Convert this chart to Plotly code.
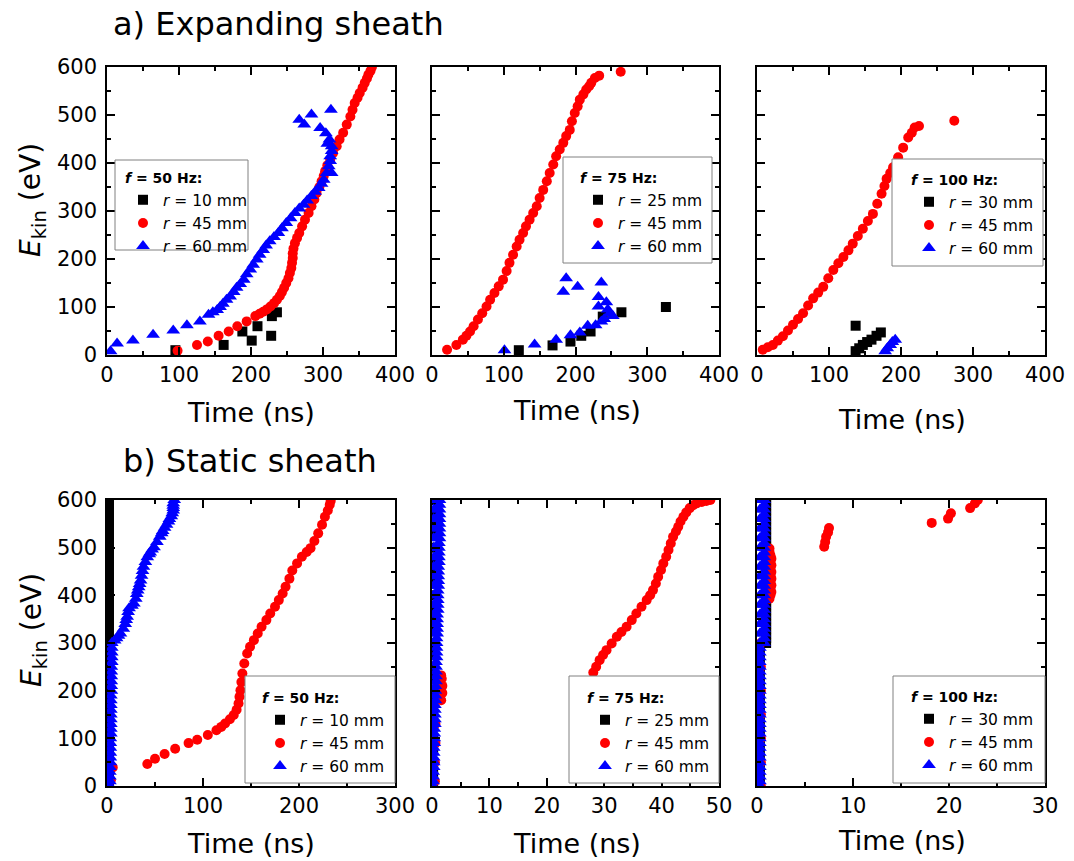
import plotly.graph_objects as go

FONT = "DejaVu Sans"
BLACK, RED, BLUE = "#000000", "#ff0000", "#0000ff"

# ---------------- a) Expanding sheath ----------------
# f = 50 Hz
a50_r10_t = [95, 162, 188, 201, 209, 228, 229, 236]
a50_r10_e = [10, 21, 49, 30, 60, 40, 81, 89]
a50_r45_t = [98, 125, 140, 155, 169, 181, 194, 206, 212, 217, 222, 227, 232, 236, 240, 243,
             246, 249, 252, 254, 256, 257, 258, 258, 259, 261, 264, 267, 271, 275, 280, 284,
             288, 291, 295, 298, 301, 303, 306, 310, 314, 319, 323, 328, 333, 338, 341, 344,
             348, 351, 355, 358, 361, 363, 366, 368]
a50_r45_e = [9, 21, 28, 40, 49, 60, 70, 81, 86, 90, 95, 101, 108, 115, 123, 131,
             140, 150, 160, 171, 181, 192, 202, 212, 222, 233, 244, 254, 268, 282, 296, 310,
             324, 337, 350, 362, 373, 383, 395, 407, 421, 435, 449, 463, 480, 497, 511, 525,
             536, 546, 557, 567, 576, 584, 592, 600]
a50_r60_t = [5, 14, 36, 64, 92, 111, 129, 141, 147, 153, 157, 161, 166, 171, 176, 180, 185,
             190, 194, 199, 203, 208, 212, 217, 221, 226, 232, 238, 243, 249, 255, 261, 267,
             273, 278, 284, 289, 294, 298, 301, 305, 312, 308, 310, 310, 312, 312, 306, 309,
             304, 296, 274, 267, 284, 311]
a50_r60_e = [8, 24, 30, 42, 51, 62, 70, 84, 89, 94, 100, 107, 115, 122, 131, 140, 148,
             157, 168, 178, 188, 199, 209, 219, 228, 237, 246, 254, 264, 275, 285, 296, 305,
             313, 322, 331, 340, 348, 357, 365, 379, 379, 393, 404, 414, 425, 435, 440, 449,
             462, 473, 480, 490, 501, 511]

# f = 75 Hz
a75_r25_t = [121, 168, 193, 208, 221, 238, 264, 326]
a75_r25_e = [10, 20, 28, 40, 49, 80, 89, 100]
a75_r45_t = [21, 34, 43, 48, 53, 58, 64, 70, 76, 81, 87, 93, 99, 104, 108, 113, 118, 122,
             127, 131, 136, 141, 146, 150, 155, 160, 164, 169, 173, 178, 183, 187, 192, 195,
             199, 203, 206, 211, 215, 219, 222, 227, 233, 263]
a75_r45_e = [11, 21, 32, 40, 49, 60, 74, 87, 101, 115, 129, 143, 157, 175, 192, 209, 226, 240,
             254, 268, 282, 296, 310, 327, 344, 362, 379, 397, 414, 428, 442, 456, 469, 487,
             504, 518, 532, 543, 553, 560, 567, 577, 582, 590]
a75_r60_t = [101, 143, 173, 193, 206, 217, 228, 236, 240, 252, 248, 245, 232, 243, 232, 183,
             203, 236, 187]
a75_r60_e = [10, 22, 32, 41, 47, 61, 62, 70, 75, 81, 87, 95, 101, 110, 121, 132,
             142, 151, 160]

# f = 100 Hz
a100_r30_t = [137, 142, 147, 153, 159, 166, 172, 137]
a100_r30_e = [8, 14, 21, 27, 32, 40, 47, 61]
a100_r45_t = [8, 15, 22, 29, 36, 43, 50, 57, 64, 71, 78, 85, 92, 99, 106, 113, 120, 127,
              133, 140, 147, 154, 161, 167, 173, 177, 180, 185, 189, 196, 203, 210, 215,
              219, 225, 274]
a100_r45_e = [11, 16, 21, 30, 39, 51, 63, 75, 87, 103, 118, 130, 142, 160, 177, 191, 204, 218,
              232, 248, 263, 279, 294, 315, 336, 352, 367, 379, 391, 412, 432, 453, 463,
              474, 477, 488]
a100_r60_t = [178, 181, 185, 188, 192]
a100_r60_e = [8, 14, 21, 27, 32]

# ---------------- b) Static sheath ----------------
# f = 50 Hz
b50_r10_t = [2, 2, 2, 2, 2, 2, 2, 2, 2, 2, 2, 2, 2, 2, 2,
             2, 2, 2, 2, 2, 2, 2, 2, 2, 2, 2, 2, 2, 2, 2, 2, 2, 2, 2, 2, 2, 2, 2, 2, 2, 2, 2,
             2, 2, 2, 2]
b50_r10_e = [0, 20, 40, 60, 80, 100, 120, 140, 160, 180, 200, 220, 240, 260, 280,
             300, 310, 320, 330, 340, 350, 360, 370, 380, 390, 400, 410, 420, 430, 440, 450,
             460, 470, 480, 490, 500, 510, 520, 530, 540, 550, 560, 570, 580, 590, 600]
b50_r45_t = [4, 6, 42, 50, 60, 71, 85, 94, 105, 114, 119, 123, 128, 132, 135, 137, 138, 139,
             140, 141, 143, 146, 149, 153, 157, 161, 166, 170, 175, 179, 183, 186, 190, 193,
             198, 203, 208, 212, 216, 220, 224, 227, 230, 232, 233]
b50_r45_e = [12, 39, 46, 57, 67, 78, 90, 97, 107, 117, 124, 131, 140, 149, 160, 173, 187, 201,
             218, 236, 257, 278, 292, 306, 320, 334, 348, 362, 376, 390, 404, 418, 435, 452,
             467, 481, 491, 499, 514, 530, 548, 565, 578, 590, 598]
b50_r60_t = [3, 3, 3, 3, 3, 3.5, 3.5, 3.5, 3.5, 3.5, 3.5, 4, 4, 4, 4, 4, 4, 4, 4, 4,
             4.5, 4.5, 4.5, 4.5, 4.5, 4.5, 5, 5, 5, 5, 5,
             8, 10, 12, 14, 17, 19, 20, 21, 22, 23, 26, 28, 30, 31, 32, 33, 34, 35, 36, 37,
             38, 40, 42, 44, 45, 47, 49, 52, 55, 57, 58, 60, 62, 64, 65, 67, 68, 69, 69, 69,
             69, 70]
b50_r60_e = [0, 10, 20, 30, 40, 50, 60, 70, 80, 90, 100, 110, 120, 130, 140, 150, 160, 170,
             180, 190, 200, 210, 220, 230, 240, 250, 260, 270, 280, 290, 300,
             305, 310, 315, 320, 330, 340, 348, 355, 365, 373, 378, 383, 393, 403, 410, 417,
             424, 431, 441, 451, 460, 470, 480, 486, 490, 496, 501, 512, 523, 530, 535, 542,
             548, 555, 560, 566, 572, 578, 583, 588, 593, 600]

# f = 75 Hz
b75_r25_t = [0.2, 0.2, 0.2, 0.2, 0.2, 0.2, 0.2, 0.2, 0.2, 0.2, 0.2, 0.2, 0.2, 0.2, 0.2,
             0.2, 0.2, 0.2, 0.2, 0.2, 0.2, 0.2, 0.2, 0.2, 0.2]
b75_r25_e = [0, 25, 50, 75, 100, 125, 150, 175, 200, 225, 250, 275, 300, 325, 350, 375, 400,
             425, 450, 475, 500, 525, 550, 575, 600]
b75_r45_t = [0.5, 0.5, 0.6, 0.6, 1.6, 1.8, 1.8, 1.7, 1.6, 28.1, 28.6, 29.2, 29.8, 30.4,
             31.3, 32.2, 33.0, 33.9, 34.8, 35.6, 36.5, 37.4, 38.0, 38.5, 39.0, 39.4, 39.9,
             40.3, 40.8, 41.2, 41.6, 42.0, 42.5, 42.9, 43.3, 43.8, 44.3, 44.9, 45.5, 46.1,
             47.0, 47.8, 48.5]
b75_r45_e = [10, 50, 90, 130, 180, 195, 210, 225, 232, 238, 250, 264, 275, 285, 299, 313,
             323, 334, 348, 362, 376, 390, 400, 411, 425, 439, 453, 467, 481, 495, 509, 523,
             534, 544, 555, 565, 574, 583, 589, 593, 596, 598, 600]
b75_r60_t = [0.2, 0.2, 0.2, 0.2, 0.3, 0.3, 0.3, 0.3, 0.3, 0.4,
             0.4, 0.4, 0.4, 0.5, 0.5, 0.5, 0.5, 0.5, 0.6, 0.6,
             0.6, 0.6, 0.7, 0.7, 0.7, 0.7, 0.7, 0.8, 0.8, 0.8,
             0.8, 0.8, 0.9, 0.9, 0.9, 0.9, 0.9, 1.0, 1.0, 1.0,
             1.0, 1.0, 1.1, 1.1, 1.1, 1.1, 1.1, 1.2, 1.2, 1.2,
             1.2, 1.2, 1.3, 1.3, 1.3, 1.3, 1.3, 1.3, 1.3, 1.3,
             1.3,
             0.3, 0.3, 0.3, 0.3, 0.3, 0.3, 0.3, 0.3, 0.3, 0.3, 0.3, 0.3, 0.3, 0.3, 0.3, 0.3]
b75_r60_e = [0, 10, 20, 30, 40, 50, 60, 70, 80, 90,
             100, 110, 120, 130, 140, 150, 160, 170, 180, 190,
             200, 210, 220, 230, 240, 250, 260, 270, 280, 290,
             300, 310, 320, 330, 340, 350, 360, 370, 380, 390,
             400, 410, 420, 430, 440, 450, 460, 470, 480, 490,
             500, 510, 520, 530, 540, 550, 560, 570, 580, 590,
             600,
             300, 320, 340, 360, 380, 400, 420, 440, 460, 480, 500, 520, 540, 560, 580, 600]

# f = 100 Hz
b100_r30_t = [0.3, 0.3, 0.3, 0.3, 0.3, 0.3, 0.3, 0.3, 0.3, 0.3, 0.3, 0.3, 0.3, 0.3, 0.3,
              0.95, 0.95, 0.95, 0.95, 0.95, 0.95, 0.95, 0.95, 0.95, 0.95, 0.95, 0.95, 0.95,
              0.95, 0.95, 0.95, 0.95, 0.95, 0.95, 0.95, 0.95, 0.95, 0.95, 0.95, 0.95, 0.95,
              0.95, 0.95, 0.95, 0.95, 0.95]
b100_r30_e = [0, 20, 40, 60, 80, 100, 120, 140, 160, 180, 200, 220, 240, 260, 280,
              300, 310, 320, 330, 340, 350, 360, 370, 380, 390, 400, 410, 420, 430, 440, 450,
              460, 470, 480, 490, 500, 510, 520, 530, 540, 550, 560, 570, 580, 590, 600]
b100_r45_t = [0.4, 0.4, 0.4, 0.4, 0.4, 0.4, 0.4,
              1.3, 1.4, 1.5, 1.4, 1.5, 1.4, 1.5, 1.4, 1.5, 1.4, 1.5, 1.4, 1.5, 1.4, 1.3, 1.3,
              7.0, 7.1, 7.2, 7.4, 7.5, 18.2, 19.9, 20.2, 22.2, 22.7, 23.0]
b100_r45_e = [0, 50, 100, 150, 200, 250, 300,
              393, 400, 407, 414, 421, 428, 435, 442, 449, 456, 463, 470, 477, 484, 491, 498,
              502, 512, 523, 532, 541, 552, 561, 572, 583, 593, 600]
b100_r60_t = [0.3, 0.3, 0.3, 0.3, 0.3, 0.3, 0.3, 0.3, 0.3, 0.3,
              0.3, 0.3, 0.3, 0.3, 0.3, 0.3, 0.3, 0.3, 0.3, 0.3,
              0.3, 0.3, 0.3, 0.3, 0.3, 0.3, 0.3, 0.3, 0.3, 0.3,
              0.75, 0.75, 0.75, 0.75, 0.75, 0.75, 0.75, 0.75, 0.75, 0.75,
              0.75, 0.75, 0.75, 0.75, 0.75, 0.75, 0.75, 0.75, 0.75, 0.75,
              0.75, 0.75, 0.75, 0.75, 0.75, 0.75, 0.75, 0.75, 0.75, 0.75,
              0.75,
              0.3, 0.3, 0.3, 0.3, 0.3, 0.3, 0.3, 0.3, 0.3, 0.3, 0.3, 0.3, 0.3, 0.3, 0.3, 0.3]
b100_r60_e = [0, 10, 20, 30, 40, 50, 60, 70, 80, 90,
              100, 110, 120, 130, 140, 150, 160, 170, 180, 190,
              200, 210, 220, 230, 240, 250, 260, 270, 280, 290,
              300, 310, 320, 330, 340, 350, 360, 370, 380, 390,
              400, 410, 420, 430, 440, 450, 460, 470, 480, 490,
              500, 510, 520, 530, 540, 550, 560, 570, 580, 590,
              600,
              300, 320, 340, 360, 380, 400, 420, 440, 460, 480, 500, 520, 540, 560, 580, 600]

# panel specs: (row, col, x max, major step, minor step, frequency, series)
panels = [
    (0, 0, 400, 100, 50, 50, [(10, a50_r10_t, a50_r10_e), (45, a50_r45_t, a50_r45_e), (60, a50_r60_t, a50_r60_e)]),
    (0, 1, 400, 100, 50, 75, [(25, a75_r25_t, a75_r25_e), (45, a75_r45_t, a75_r45_e), (60, a75_r60_t, a75_r60_e)]),
    (0, 2, 400, 100, 50, 100, [(30, a100_r30_t, a100_r30_e), (45, a100_r45_t, a100_r45_e), (60, a100_r60_t, a100_r60_e)]),
    (1, 0, 300, 100, 50, 50, [(10, b50_r10_t, b50_r10_e), (45, b50_r45_t, b50_r45_e), (60, b50_r60_t, b50_r60_e)]),
    (1, 1, 50, 10, 5, 75, [(25, b75_r25_t, b75_r25_e), (45, b75_r45_t, b75_r45_e), (60, b75_r60_t, b75_r60_e)]),
    (1, 2, 30, 10, 5, 100, [(30, b100_r30_t, b100_r30_e), (45, b100_r45_t, b100_r45_e), (60, b100_r60_t, b100_r60_e)]),
]
styles = [(BLACK, "square", 10), (RED, "circle", 10), (BLUE, "triangle-up", 12)]

W, H = 1074, 861
col_px = [(107, 395), (432, 719), (757, 1045)]
row_px = [(67, 355), (500, 786)]
# legend frames (left, top, right, bottom) and the symbol column / title centre inside them
legend_box = [(115, 160, 248, 250), (563, 157, 712, 263), (892, 159, 1043, 266),
              (245, 676, 395, 783), (569, 676, 719, 783), (893, 676, 1045, 783)]
legend_anchor = [(143, 178), (598, 178), (929, 180), (280, 698), (605, 698), (929, 697)]


def px_x(p):
    return p / W


def px_y(p):
    return 1 - p / H


fig = go.Figure()
layout = dict(
    width=W, height=H, margin=dict(l=0, r=0, t=0, b=0, pad=0, autoexpand=False),
    paper_bgcolor="white", plot_bgcolor="white",
    font=dict(family=FONT, color="black"),
)
shapes = []

for k, (row, col, xmax, dmaj, dmin, freq, series) in enumerate(panels, start=1):
    sfx = "" if k == 1 else str(k)
    legend_name = "legend" + sfx
    for (radius, t, e), (color, symbol, size) in zip(series, styles):
        fig.add_trace(go.Scatter(
            x=t, y=e, mode="markers",
            marker=dict(color=color, symbol=symbol, size=size, line=dict(width=0)),
            name=f"<i>r</i> = {radius} mm",
            xaxis="x" + sfx, yaxis="y" + sfx, legend=legend_name,
        ))
    x0, x1 = col_px[col]
    y0, y1 = row_px[row]
    common = dict(
        ticks="inside", ticklen=8, tickwidth=1.5, tickcolor="black",
        minor=dict(ticks="inside", ticklen=4, tickwidth=1.5, tickcolor="black"),
        mirror="allticks", showline=True, linecolor="black", linewidth=1.5,
        showgrid=False, zeroline=False, tick0=0, automargin=False,
        tickfont=dict(family=FONT, size=21, color="black"),
    )
    xa = dict(common, domain=[px_x(x0), px_x(x1)], range=[0, xmax], dtick=dmaj,
              anchor="y" + sfx)
    xa["minor"] = dict(common["minor"], dtick=dmin)
    ya = dict(common, domain=[px_y(y1), px_y(y0)], range=[0, 600], dtick=100,
              anchor="x" + sfx, showticklabels=(col == 0), ticklabelstandoff=4)
    ya["minor"] = dict(common["minor"], dtick=50)
    layout["xaxis" + sfx] = xa
    layout["yaxis" + sfx] = ya

    # white framed box behind each legend, covering the data beneath it
    bl, bt, br, bb = legend_box[k - 1]
    shapes.append(dict(type="rect", xref="paper", yref="paper",
                       x0=px_x(bl), x1=px_x(br), y0=px_y(bb), y1=px_y(bt),
                       fillcolor="white", line=dict(color="#808080", width=1), layer="above"))
    mx, ty = legend_anchor[k - 1]
    layout[legend_name] = dict(
        x=px_x(mx - 20), y=px_y(ty - 13), xanchor="left", yanchor="top",
        bgcolor="rgba(0,0,0,0)", borderwidth=0,
        font=dict(family=FONT, size=15.5, color="black"),
        title=dict(text=f"<b><i>f</i> = {freq} Hz:</b>", font=dict(family=FONT, size=14)),
        tracegroupgap=0,
    )
layout["shapes"] = shapes

annotations = [
    dict(text="a) Expanding sheath", x=px_x(111), y=px_y(24), xanchor="left", yanchor="middle",
         font=dict(size=32)),
    dict(text="b) Static sheath", x=px_x(121), y=px_y(461), xanchor="left", yanchor="middle",
         font=dict(size=32)),
]
# axis titles
xt_pos = [(251, 412), (577, 410), (902, 419), (251, 843), (577, 843), (902, 840)]
for cx, cy in xt_pos:
    annotations.append(dict(text="Time (ns)", x=px_x(cx), y=px_y(cy), xanchor="center",
                            yanchor="middle", font=dict(size=27)))
for cy in (200, 630):
    annotations.append(dict(text="<i>E</i><sub>kin</sub> (eV)", x=px_x(33), y=px_y(cy),
                            xanchor="center", yanchor="middle", textangle=-90,
                            font=dict(size=28)))
for a in annotations:
    a.update(xref="paper", yref="paper", showarrow=False)
    a["font"] = dict(family=FONT, color="black", **a["font"])
layout["annotations"] = annotations

fig.update_layout(**layout)
fig.write_html("out.html")
